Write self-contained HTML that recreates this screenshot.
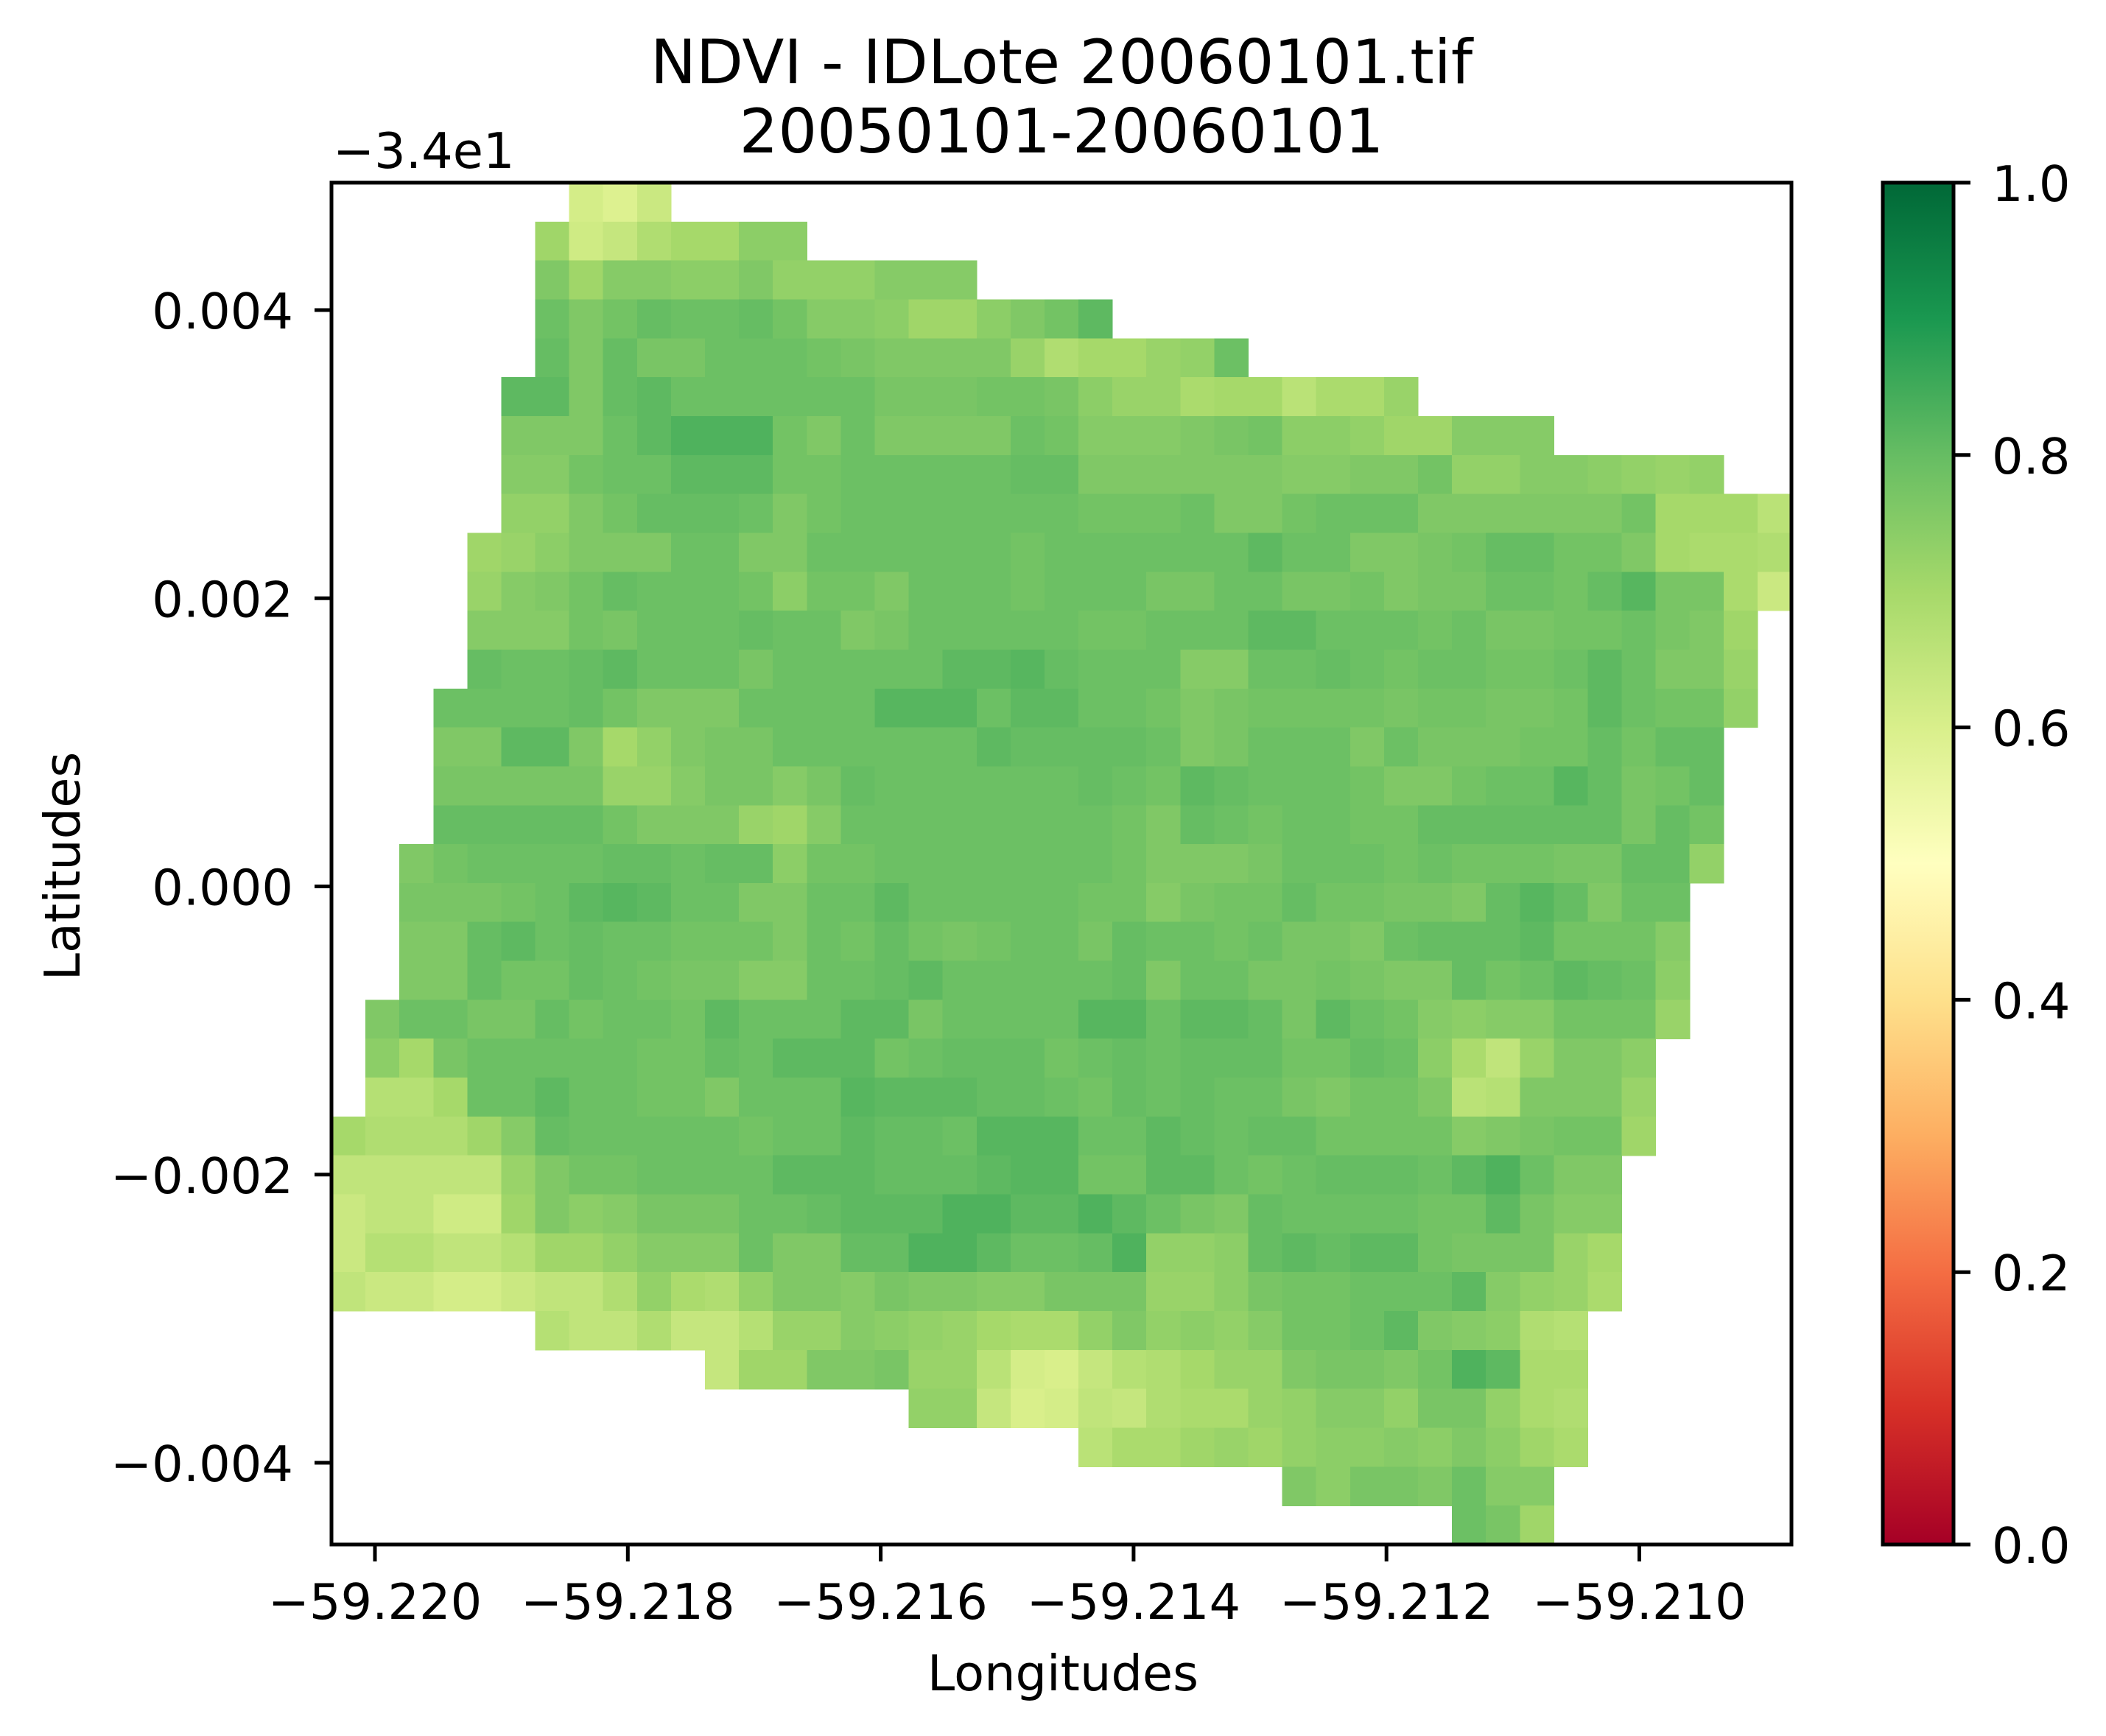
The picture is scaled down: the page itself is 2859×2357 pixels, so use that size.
<!DOCTYPE html>
<html><head><meta charset="utf-8"><title>NDVI - IDLote 20060101.tif</title>
<style>
html,body{margin:0;padding:0;background:#fff;}
svg{display:block;font-family:"DejaVu Sans","Liberation Sans",sans-serif;}
</style></head>
<body>
<svg id="chart" xmlns="http://www.w3.org/2000/svg" width="2859" height="2357" viewBox="0 0 2859 2357">
<rect x="0" y="0" width="2859" height="2357" fill="#ffffff"/>
<g id="title" font-size="83" text-anchor="middle" fill="#000">
<text x="1441" y="113">NDVI - IDLote 20060101.tif</text>
<text x="1441" y="207">20050101-20060101</text>
</g>
<text x="452" y="228" font-size="67">−3.4e1</text>
<g id="cells" shape-rendering="crispEdges"></g>
<rect x="450" y="248" width="1982" height="1849" fill="none" stroke="#000" stroke-width="5"/>
<g id="xaxis"></g>
<g id="yaxis"></g>
<text x="1443" y="2295" font-size="67" text-anchor="middle">Longitudes</text>
<text transform="translate(108,1176) rotate(-90)" font-size="67" text-anchor="middle">Latitudes</text>
<defs>
<linearGradient id="cbgrad" x1="0" y1="1" x2="0" y2="0">
<stop offset="0" stop-color="#a50026"/><stop offset="0.1" stop-color="#d73027"/><stop offset="0.2" stop-color="#f46d43"/><stop offset="0.3" stop-color="#fdae61"/><stop offset="0.4" stop-color="#fee08b"/><stop offset="0.5" stop-color="#ffffbf"/><stop offset="0.6" stop-color="#d9ef8b"/><stop offset="0.7" stop-color="#a6d96a"/><stop offset="0.8" stop-color="#66bd63"/><stop offset="0.9" stop-color="#1a9850"/><stop offset="1" stop-color="#006837"/>
</linearGradient>
</defs>
<rect x="2556" y="248" width="96" height="1849" fill="url(#cbgrad)" stroke="#000" stroke-width="5"/>
<g id="cbaxis"></g>
</svg>
<script>
// ---- data ----
const xTicks = [-59.220, -59.218, -59.216, -59.214, -59.212, -59.210];
const xTickLabels = ["−59.220", "−59.218", "−59.216", "−59.214", "−59.212", "−59.210"];
const yTicks = [0.004, 0.002, 0.000, -0.002, -0.004];
const yTickLabels = ["0.004", "0.002", "0.000", "−0.002", "−0.004"];
const cbTicks = [0.0, 0.2, 0.4, 0.6, 0.8, 1.0];
const cbTickLabels = ["0.0", "0.2", "0.4", "0.6", "0.8", "1.0"];
const rowStart = [7,6,6,6,6,5,5,5,5,4,4,4,4,3,3,3,3,2,2,2,2,1,1,1,0,0,0,0,0,6,11,17,22,28,33];
const rowValues = [
[.61,.59,.63],
[.71,.62,.64,.68,.70,.70,.74,.74],
[.76,.71,.75,.75,.74,.74,.76,.73,.73,.73,.75,.75,.75],
[.79,.76,.78,.80,.79,.79,.80,.78,.75,.75,.74,.71,.71,.74,.76,.78,.81],
[.80,.76,.80,.77,.77,.79,.79,.79,.78,.77,.76,.76,.76,.76,.72,.68,.70,.70,.72,.73,.79],
[.81,.81,.76,.80,.81,.79,.79,.79,.79,.79,.79,.77,.77,.77,.78,.78,.77,.74,.72,.72,.69,.70,.70,.66,.69,.69,.72],
[.76,.76,.76,.79,.81,.83,.83,.83,.78,.76,.79,.76,.76,.76,.76,.79,.78,.75,.75,.75,.76,.77,.78,.74,.74,.73,.71,.71,.75,.75,.75],
[.75,.75,.78,.79,.79,.81,.81,.81,.78,.78,.79,.79,.79,.79,.79,.80,.80,.76,.76,.76,.76,.76,.76,.75,.75,.76,.76,.78,.73,.73,.75,.75,.74,.73,.72,.73],
[.73,.73,.76,.78,.80,.80,.80,.79,.76,.78,.79,.79,.79,.79,.79,.79,.79,.78,.78,.78,.79,.76,.76,.78,.79,.79,.79,.76,.76,.76,.76,.76,.76,.78,.70,.70,.70,.66],
[.71,.72,.74,.76,.76,.76,.79,.79,.76,.76,.79,.79,.79,.79,.79,.79,.78,.79,.79,.79,.79,.79,.79,.81,.79,.79,.76,.76,.77,.78,.80,.80,.78,.78,.76,.70,.69,.69,.68],
[.72,.75,.76,.78,.80,.79,.79,.79,.78,.74,.78,.78,.76,.79,.79,.79,.78,.79,.79,.79,.77,.77,.79,.79,.77,.77,.78,.76,.77,.77,.79,.79,.78,.80,.82,.77,.77,.69,.63],
[.75,.75,.75,.78,.77,.79,.79,.79,.80,.79,.79,.76,.77,.79,.79,.79,.79,.79,.78,.78,.79,.79,.79,.81,.81,.79,.79,.79,.78,.79,.77,.77,.78,.78,.79,.77,.76,.71],
[.80,.79,.79,.80,.81,.79,.79,.79,.77,.79,.79,.79,.79,.79,.81,.81,.82,.80,.79,.79,.79,.75,.75,.79,.79,.80,.79,.78,.79,.79,.78,.78,.79,.81,.79,.76,.76,.72],
[.79,.79,.79,.79,.80,.78,.76,.76,.76,.79,.79,.79,.79,.82,.82,.82,.79,.81,.81,.79,.79,.78,.76,.77,.78,.78,.78,.78,.77,.78,.78,.77,.77,.78,.81,.79,.78,.78,.73],
[.76,.76,.81,.81,.76,.70,.73,.76,.77,.77,.79,.79,.79,.79,.79,.79,.81,.80,.80,.80,.80,.79,.76,.77,.79,.79,.79,.76,.79,.77,.77,.77,.78,.78,.80,.78,.80,.80],
[.77,.77,.77,.77,.77,.72,.72,.75,.77,.77,.75,.77,.80,.79,.79,.79,.79,.79,.79,.80,.79,.78,.81,.80,.79,.79,.79,.78,.76,.76,.78,.79,.79,.82,.80,.77,.78,.80],
[.80,.80,.80,.80,.80,.78,.76,.76,.76,.72,.71,.75,.79,.79,.79,.79,.79,.79,.79,.79,.78,.76,.80,.79,.78,.79,.79,.78,.78,.80,.80,.80,.80,.80,.80,.77,.80,.78],
[.76,.78,.79,.79,.79,.79,.80,.80,.79,.80,.80,.74,.78,.78,.79,.79,.79,.79,.79,.79,.79,.78,.76,.76,.76,.77,.79,.79,.79,.78,.79,.78,.78,.78,.77,.77,.80,.80,.73],
[.77,.77,.77,.78,.79,.81,.82,.81,.79,.79,.76,.76,.79,.79,.81,.79,.79,.79,.79,.79,.78,.78,.75,.77,.78,.78,.80,.78,.78,.77,.77,.76,.80,.82,.80,.76,.79,.79],
[.76,.76,.80,.81,.79,.80,.79,.79,.78,.78,.78,.76,.79,.78,.80,.78,.77,.78,.79,.79,.77,.80,.79,.79,.78,.79,.77,.77,.76,.79,.80,.80,.80,.81,.78,.78,.78,.75],
[.76,.76,.80,.78,.78,.80,.79,.78,.77,.77,.75,.75,.79,.79,.80,.81,.79,.79,.79,.79,.79,.80,.76,.79,.79,.77,.77,.78,.77,.76,.76,.80,.78,.79,.81,.80,.79,.74],
[.76,.79,.79,.77,.77,.80,.78,.79,.79,.78,.81,.79,.79,.79,.81,.81,.77,.79,.79,.79,.79,.82,.82,.79,.81,.81,.80,.77,.81,.79,.78,.75,.74,.75,.75,.78,.78,.78,.72],
[.74,.70,.77,.79,.79,.79,.79,.79,.78,.78,.80,.79,.81,.81,.81,.78,.79,.80,.80,.80,.78,.79,.80,.79,.80,.80,.80,.78,.78,.80,.79,.74,.69,.65,.72,.76,.76,.74],
[.67,.67,.70,.79,.79,.81,.79,.79,.78,.78,.76,.79,.79,.79,.82,.81,.81,.81,.80,.80,.79,.78,.80,.79,.80,.79,.79,.77,.76,.78,.78,.76,.66,.67,.76,.76,.76,.72],
[.70,.68,.68,.68,.71,.75,.80,.79,.79,.79,.79,.79,.78,.79,.79,.81,.80,.80,.79,.82,.82,.82,.79,.79,.81,.80,.79,.80,.80,.78,.78,.78,.78,.75,.76,.77,.78,.78,.71],
[.65,.65,.65,.65,.65,.72,.76,.78,.78,.79,.79,.79,.79,.81,.81,.81,.80,.80,.80,.81,.82,.82,.78,.78,.81,.81,.79,.78,.79,.80,.80,.80,.79,.81,.83,.79,.76,.76],
[.63,.65,.65,.62,.62,.71,.76,.74,.75,.77,.77,.77,.79,.79,.80,.81,.81,.81,.83,.83,.81,.81,.83,.81,.79,.77,.76,.80,.79,.79,.79,.79,.78,.78,.81,.77,.75,.75],
[.63,.67,.67,.65,.65,.67,.71,.71,.73,.75,.75,.75,.79,.76,.76,.80,.80,.83,.83,.81,.79,.79,.80,.83,.73,.73,.74,.80,.81,.80,.81,.81,.78,.77,.77,.77,.72,.70],
[.65,.63,.63,.61,.61,.63,.65,.65,.68,.73,.69,.68,.73,.76,.76,.75,.77,.76,.76,.75,.75,.77,.77,.77,.72,.72,.74,.77,.78,.78,.79,.79,.79,.81,.75,.73,.72,.69],
[.67,.65,.65,.68,.64,.64,.67,.72,.72,.75,.74,.73,.72,.70,.69,.69,.73,.76,.73,.74,.73,.75,.78,.78,.79,.81,.76,.75,.74,.68,.67],
[.64,.71,.71,.76,.76,.77,.72,.72,.66,.61,.60,.64,.67,.68,.70,.72,.72,.76,.77,.77,.76,.78,.83,.81,.69,.69],
[.73,.73,.64,.60,.61,.65,.64,.68,.69,.69,.72,.73,.75,.75,.73,.77,.77,.73,.69,.68],
[.66,.69,.69,.71,.72,.71,.73,.74,.74,.75,.74,.76,.74,.71,.69],
[.76,.74,.77,.77,.76,.79,.75,.75],
[.79,.77,.71]
];

// ---- scales ----
const NS = "http://www.w3.org/2000/svg";
const X0PX = 509, XPX_PER_DEG = 171650;
const Y0PX = 1203.5, YPX_PER_DEG = 195625;
function xScale(lon){ return X0PX + (lon + 59.220) * XPX_PER_DEG; }
function yScale(lat){ return Y0PX - lat * YPX_PER_DEG; }
const lonOrigin = -59.220 + (450 - X0PX) / XPX_PER_DEG;
const latOrigin = (Y0PX - 248) / YPX_PER_DEG;
const dLon = (1982 / 43) / XPX_PER_DEG;
const dLat = (1849 / 35) / YPX_PER_DEG;
const CB_TOP = 248, CB_BOT = 2097;
function cbScale(v){ return CB_BOT - v * (CB_BOT - CB_TOP); }

const stops = ["#a50026","#d73027","#f46d43","#fdae61","#fee08b","#ffffbf","#d9ef8b","#a6d96a","#66bd63","#1a9850","#006837"];
function hex2rgb(h){ return [parseInt(h.substr(1,2),16),parseInt(h.substr(3,2),16),parseInt(h.substr(5,2),16)]; }
function cmap(v){
  v = Math.max(0, Math.min(1, v));
  const p = v * 10, i = Math.min(9, Math.floor(p)), t = p - i;
  const a = hex2rgb(stops[i]), b = hex2rgb(stops[i+1]);
  const c = a.map((x,k)=>Math.round(x + (b[k]-x)*t));
  return "rgb(" + c.join(",") + ")";
}

// ---- heatmap ----
const cells = document.getElementById("cells");
rowValues.forEach(function(vals, r){
  vals.forEach(function(v, k){
    if (v === null || v === undefined) return;
    const c = rowStart[r] + k;
    const x1 = xScale(lonOrigin + c * dLon), x2 = xScale(lonOrigin + (c + 1) * dLon);
    const y1 = yScale(latOrigin - r * dLat), y2 = yScale(latOrigin - (r + 1) * dLat);
    const rect = document.createElementNS(NS, "rect");
    rect.setAttribute("x", x1.toFixed(2));
    rect.setAttribute("y", y1.toFixed(2));
    rect.setAttribute("width", (x2 - x1 + 0.6).toFixed(2));
    rect.setAttribute("height", (y2 - y1 + 0.6).toFixed(2));
    rect.setAttribute("fill", cmap(v));
    
    
    cells.appendChild(rect);
  });
});

// ---- axes ----
const xaxis = document.getElementById("xaxis");
xTicks.forEach(function(t, i){
  const x = xScale(t);
  const ln = document.createElementNS(NS, "line");
  ln.setAttribute("x1", x); ln.setAttribute("x2", x);
  ln.setAttribute("y1", 2097); ln.setAttribute("y2", 2120);
  ln.setAttribute("stroke", "#000"); ln.setAttribute("stroke-width", "5");
  
  
  xaxis.appendChild(ln);
  const tx = document.createElementNS(NS, "text");
  tx.setAttribute("x", x); tx.setAttribute("y", 2198);
  tx.setAttribute("font-size", "67"); tx.setAttribute("text-anchor", "middle");
  tx.textContent = xTickLabels[i];
  
  
  xaxis.appendChild(tx);
});
const yaxis = document.getElementById("yaxis");
yTicks.forEach(function(t, i){
  const y = yScale(t);
  const ln = document.createElementNS(NS, "line");
  ln.setAttribute("x1", 427); ln.setAttribute("x2", 450);
  ln.setAttribute("y1", y); ln.setAttribute("y2", y);
  ln.setAttribute("stroke", "#000"); ln.setAttribute("stroke-width", "5");
  
  
  yaxis.appendChild(ln);
  const tx = document.createElementNS(NS, "text");
  tx.setAttribute("x", 398); tx.setAttribute("y", y + 25);
  tx.setAttribute("font-size", "67"); tx.setAttribute("text-anchor", "end");
  tx.textContent = yTickLabels[i];
  
  
  yaxis.appendChild(tx);
});
const cbaxis = document.getElementById("cbaxis");
cbTicks.forEach(function(t, i){
  const y = cbScale(t);
  const ln = document.createElementNS(NS, "line");
  ln.setAttribute("x1", 2652); ln.setAttribute("x2", 2675);
  ln.setAttribute("y1", y); ln.setAttribute("y2", y);
  ln.setAttribute("stroke", "#000"); ln.setAttribute("stroke-width", "5");
  
  
  cbaxis.appendChild(ln);
  const tx = document.createElementNS(NS, "text");
  tx.setAttribute("x", 2704); tx.setAttribute("y", y + 25);
  tx.setAttribute("font-size", "67");
  tx.textContent = cbTickLabels[i];
  
  
  cbaxis.appendChild(tx);
});
</script>
</body></html>
